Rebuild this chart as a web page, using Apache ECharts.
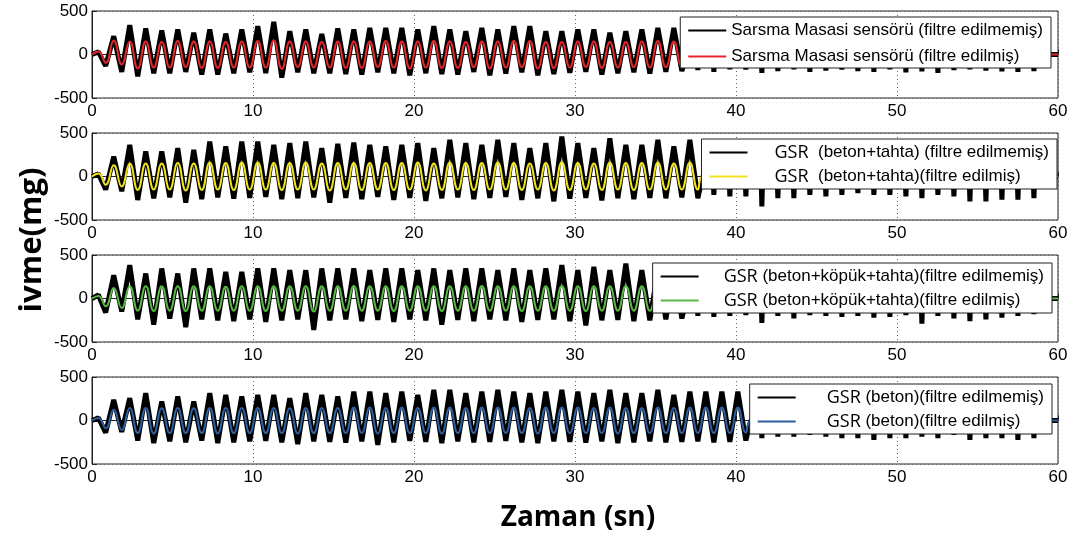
<!DOCTYPE html>
<html>
<head>
<meta charset="utf-8">
<script src="https://cdn.jsdelivr.net/npm/echarts@6/dist/echarts.min.js"></script>
<style>
  html, body { margin: 0; padding: 0; background: #fff; }
  #chart { width: 1075px; height: 541px; }
</style>
</head>
<body>
<div id="chart"></div>
<script>
// time axis / value axis ticks
const xTicks = [0, 10, 20, 30, 40, 50, 60];
const yTicks = [-500, 0, 500];

// oscillation: one peak + one trough per cycle
const period = 0.994; // s, ~1 Hz shaking
const firstPeak = 1.35; // s

// panel 1 - Sarsma Masasi sensörü
const raw1Lead = [30, -130];
const raw1Peak = [210, 337, 300, 275, 287, 250, 287, 240, 287, 325, 375, 268, 287, 237, 300, 287, 306, 306, 306, 287, 325, 287, 268, 306, 287, 325, 325, 268, 268, 287, 287, 250, 268, 287, 306, 306];
const raw1Trough = [-200, -250, -215, -215, -200, -230, -230, -215, -205, -215, -265, -205, -215, -215, -225, -230, -205, -215, -240, -215, -225, -230, -200, -240, -220, -205, -240, -225, -210, -200, -230, -215, -205, -220, -200, -190];
const raw1Tail = [-180, -200, -170, -175, -210, -190, -170, -200, -185, -175, -190, -200, -170, -205, -195, -210, -180, -170, -185, -195, -200, -190];
const filt1Lead = [35, -95];
const filt1Peak = [160, 150, 150, 145, 155, 150, 150, 145, 150, 155, 160, 150, 150, 145, 150, 150, 150, 155, 150, 150, 155, 150, 145, 150, 150, 155, 155, 145, 145, 150, 150, 145, 145, 150, 155, 150];
const filt1Trough = [-115, -160, -150, -150, -145, -155, -155, -150, -150, -150, -165, -145, -150, -150, -155, -155, -145, -150, -160, -150, -155, -155, -145, -160, -150, -145, -160, -155, -150, -145, -155, -150, -145, -150, -145, -140];

// panel 2 - GSR (beton+tahta)
const raw2Lead = [30, -150];
const raw2Peak = [230, 364, 287, 287, 325, 306, 402, 345, 402, 402, 364, 383, 402, 325, 375, 390, 364, 345, 364, 383, 325, 421, 383, 364, 421, 383, 325, 383, 460, 383, 325, 440, 364, 364, 421, 345, 421];
const raw2Trough = [-170, -270, -250, -240, -300, -260, -240, -255, -245, -235, -260, -250, -240, -300, -245, -260, -235, -270, -245, -280, -250, -240, -260, -245, -235, -270, -250, -285, -255, -245, -275, -250, -260, -245, -250, -240, -250];
const raw2Tail = [-210, -228, -228, -343, -248, -248, -210, -228, -210, -190, -210, -210, -228, -248, -210, -228, -286, -286, -266, -266, -248];
const filt2Lead = [35, -95];
const filt2Peak = [130, 150, 150, 150, 155, 150, 160, 155, 160, 160, 155, 155, 160, 150, 155, 155, 155, 155, 155, 160, 150, 160, 155, 155, 160, 155, 150, 155, 165, 155, 150, 160, 155, 155, 160, 150, 160];
const filt2Trough = [-115, -155, -150, -150, -160, -155, -150, -155, -150, -150, -155, -150, -150, -160, -150, -155, -150, -155, -150, -160, -155, -150, -155, -150, -150, -155, -150, -160, -155, -150, -155, -150, -155, -150, -150, -150, -150];

// panel 3 - GSR (beton+köpük+tahta)
const raw3Lead = [40, -160];
const raw3Peak = [268, 383, 287, 345, 287, 345, 345, 306, 306, 345, 345, 325, 325, 345, 345, 345, 325, 345, 345, 325, 345, 325, 345, 345, 325, 345, 325, 345, 383, 325, 364, 325, 402, 325, 330, 340];
const raw3Trough = [-150, -240, -300, -230, -330, -240, -250, -260, -240, -270, -250, -240, -360, -250, -240, -260, -245, -270, -240, -250, -300, -245, -260, -240, -250, -270, -245, -240, -260, -310, -250, -245, -260, -250, -240, -230];
const raw3Tail = [-200, -210, -200, -190, -280, -200, -230, -190, -200, -210, -200, -220, -210, -190, -290, -200, -230, -260, -240, -220, -200, -180];
const filt3Lead = [30, -90];
const filt3Peak = [120, 140, 140, 140, 140, 140, 140, 135, 140, 140, 140, 140, 140, 140, 140, 145, 140, 140, 140, 140, 140, 140, 140, 145, 140, 140, 140, 140, 145, 140, 140, 140, 145, 140, 140, 140];
const filt3Trough = [-110, -140, -145, -140, -145, -140, -140, -140, -140, -145, -140, -140, -150, -140, -140, -140, -140, -145, -140, -140, -145, -140, -140, -140, -140, -145, -140, -140, -140, -145, -140, -140, -140, -140, -140, -135];

// panel 4 - GSR (beton)
const raw4Lead = [30, -140];
const raw4Peak = [237, 257, 314, 218, 276, 218, 314, 295, 276, 295, 295, 257, 314, 295, 276, 333, 333, 314, 333, 295, 352, 352, 314, 333, 352, 333, 314, 333, 352, 333, 314, 352, 314, 314, 352, 295, 333, 333, 333, 333];
const raw4Trough = [-130, -230, -260, -240, -250, -230, -260, -250, -240, -235, -250, -270, -240, -245, -255, -240, -280, -250, -235, -245, -260, -240, -250, -245, -235, -250, -260, -240, -245, -255, -240, -260, -250, -240, -250, -245, -240, -250, -245, -230];
const raw4Tail = [-203, -184, -184, -164, -184, -203, -203, -222, -203, -203, -184, -203, -164, -222, -203, -203, -222, -203];
const filt4Lead = [30, -90];
const filt4Peak = [125, 145, 145, 140, 145, 140, 145, 145, 145, 145, 145, 140, 145, 145, 145, 150, 150, 145, 150, 145, 150, 150, 145, 150, 150, 150, 145, 150, 150, 150, 145, 150, 145, 145, 150, 145, 150, 150, 150, 150];
const filt4Trough = [-110, -145, -150, -145, -145, -145, -150, -145, -145, -145, -145, -150, -145, -145, -145, -145, -150, -145, -145, -145, -150, -145, -145, -145, -145, -145, -150, -145, -145, -145, -145, -150, -145, -145, -145, -145, -145, -145, -145, -140];

const names = [
  ['Sarsma Masasi sensörü (filtre edilmemiş)', 'Sarsma Masasi sensörü (filtre edilmiş)'],
  ['GSR  (beton+tahta) (filtre edilmemiş)', 'GSR  (beton+tahta)(filtre edilmiş)'],
  ['GSR (beton+köpük+tahta)(filtre edilmemiş)', 'GSR (beton+köpük+tahta)(filtre edilmiş)'],
  ['GSR (beton)(filtre edilmemiş)', 'GSR (beton)(filtre edilmiş)']
];
const filtColors = ['#e8262b', '#f2e41c', '#5cb646', '#2e5f9e'];

// turn cycle peaks/troughs into [t, v] points
function buildPoints(lead, peaks, troughs, tail) {
  const pts = [[0, 0], [0.4, lead[0]], [0.85, lead[1]]];
  peaks.forEach((p, k) => {
    const tp = firstPeak + k * period;
    pts.push([tp, p], [tp + period / 2, troughs[k]]);
  });
  const lastTrough = firstPeak + (peaks.length - 1) * period + period / 2;
  pts.push([lastTrough + 0.3, 0]);
  if (tail) {
    tail.forEach((v, j) => {
      const ts = lastTrough + (j + 1) * period;
      pts.push([ts - 0.05, 0], [ts, v], [ts + 0.05, 0]);
    });
  } else {
    pts.push([lastTrough + 1.2, 0]);
  }
  pts.push([60, 0]);
  return pts;
}

const panels = [
  [buildPoints(raw1Lead, raw1Peak, raw1Trough, raw1Tail), buildPoints(filt1Lead, filt1Peak, filt1Trough)],
  [buildPoints(raw2Lead, raw2Peak, raw2Trough, raw2Tail), buildPoints(filt2Lead, filt2Peak, filt2Trough)],
  [buildPoints(raw3Lead, raw3Peak, raw3Trough, raw3Tail), buildPoints(filt3Lead, filt3Peak, filt3Trough)],
  [buildPoints(raw4Lead, raw4Peak, raw4Trough, raw4Tail), buildPoints(filt4Lead, filt4Peak, filt4Trough)]
];

const gridTops = [11, 133, 255, 377];
const legendPos = [
  { right: 24, top: 17, pad: 0, gap: 5, padding: [3, 8, 1, 8] },
  { right: 18, top: 139, pad: 22, gap: 3, padding: [3, 8, 2, 8] },
  { right: 23, top: 263, pad: 20, gap: 3, padding: [3, 8, 2, 8] },
  { right: 23, top: 384, pad: 26, gap: 3, padding: [3, 8, 2, 8] }
];

const tickFont = { fontSize: 17, color: '#000', fontFamily: 'Liberation Sans, Arial, sans-serif' };

const chart = echarts.init(document.getElementById('chart'));
const option = {
  backgroundColor: '#fff',
  animation: false,
  grid: gridTops.map((t) => ({
    left: 92, right: 17, top: t, height: 87,
    show: true, borderColor: '#222', borderWidth: 1, backgroundColor: 'transparent'
  })),
  xAxis: gridTops.map((t, i) => ({
    gridIndex: i, type: 'value', min: xTicks[0], max: xTicks[xTicks.length - 1], interval: 10,
    axisLine: { lineStyle: { color: '#222' } },
    axisTick: { inside: true, length: 5, lineStyle: { color: '#222' } },
    axisLabel: Object.assign({ margin: 5, showMinLabel: true, showMaxLabel: true }, tickFont),
    splitLine: { show: true, lineStyle: { type: [1, 3], color: '#666' } }
  })),
  yAxis: gridTops.map((t, i) => ({
    gridIndex: i, type: 'value', min: yTicks[0], max: yTicks[2], interval: 500,
    axisLine: { show: true, lineStyle: { color: '#222' } },
    axisTick: { show: true, inside: true, length: 5, lineStyle: { color: '#222' } },
    axisLabel: Object.assign({ margin: 4 }, tickFont),
    splitLine: { show: true, lineStyle: { type: [1, 3], color: '#666' } }
  })),
  legend: legendPos.map((lp, i) => ({
    right: lp.right, top: lp.top, orient: 'vertical',
    data: names[i],
    icon: 'rect',
    backgroundColor: '#fff', borderColor: '#222', borderWidth: 1, borderRadius: 0,
    padding: lp.padding, itemGap: lp.gap, itemWidth: 38, itemHeight: 2,
    formatter: (name) => i === 0 ? name : '{g|GSR}' + name.slice(3),
    textStyle: {
      fontSize: 17, lineHeight: 21, color: '#000', fontFamily: 'Liberation Sans, Arial, sans-serif',
      rich: { g: { fontSize: 18, lineHeight: 21, fontFamily: 'Open Sans', color: '#000', padding: [0, 0, 0, lp.pad] } }
    }
  })),
  graphic: [
    {
      type: 'text', x: 32, y: 240, rotation: Math.PI / 2,
      style: { text: 'ivme(mg)', font: 'bold 31px "Open Sans"', fill: '#000', align: 'center', verticalAlign: 'middle' }
    },
    {
      type: 'text', x: 578, y: 518,
      style: { text: 'Zaman (sn)', font: 'bold 28px "Open Sans"', fill: '#000', align: 'center', verticalAlign: 'middle' }
    }
  ],
  series: []
};

panels.forEach((p, i) => {
  option.series.push({
    name: names[i][0], type: 'line', xAxisIndex: i, yAxisIndex: i,
    data: p[0], symbol: 'none', z: 2,
    lineStyle: { color: '#000', width: 5, join: 'bevel' }, itemStyle: { color: '#000' }
  });
  option.series.push({
    name: names[i][1], type: 'line', xAxisIndex: i, yAxisIndex: i,
    data: p[1], symbol: 'none', smooth: 0.5, z: 3,
    lineStyle: { color: filtColors[i], width: 2 }, itemStyle: { color: filtColors[i] }
  });
});

chart.setOption(option);
window.addEventListener('resize', () => {
  chart.resize();
});
</script>
</body>
</html>
